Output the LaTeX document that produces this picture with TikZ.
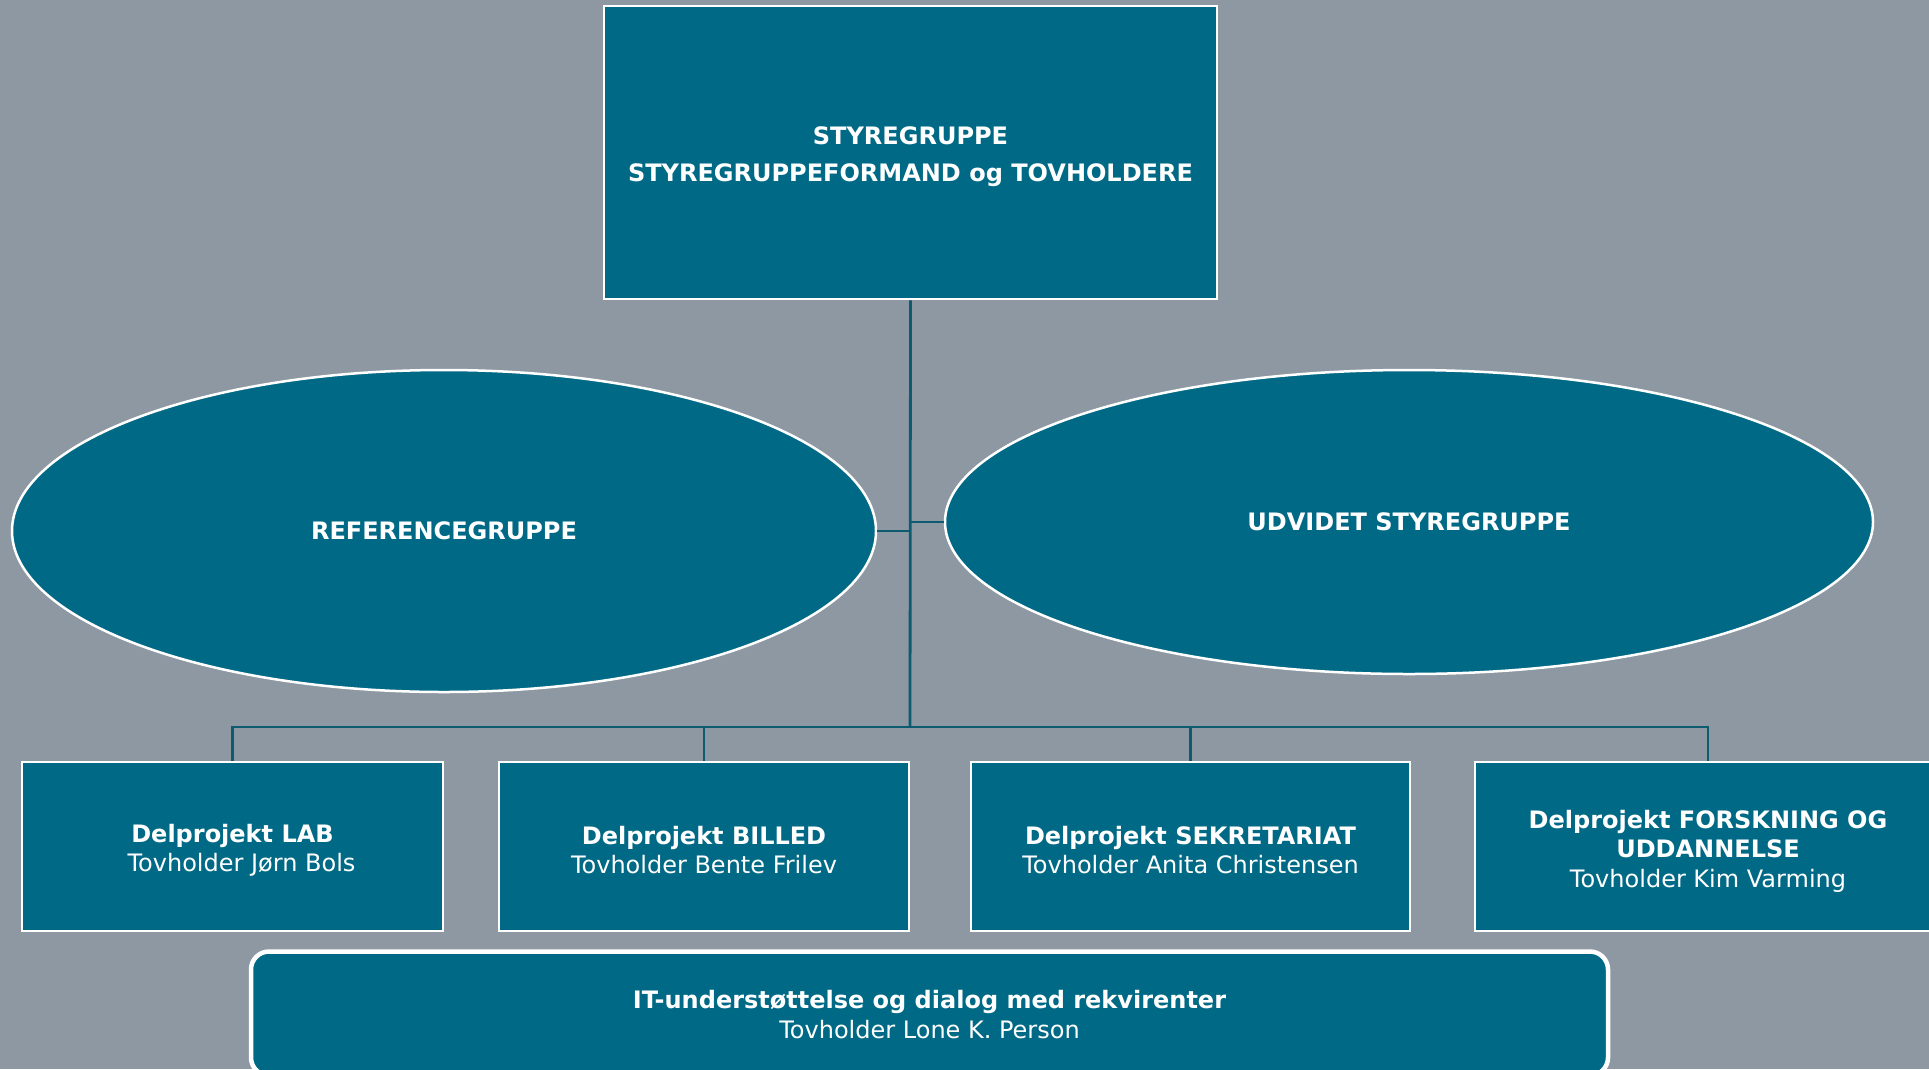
\documentclass[tikz,border=0pt]{standalone}
\usepackage{fontspec}
\setmainfont{DejaVu Sans}
\usetikzlibrary{shapes.geometric}
\definecolor{bgcol}{HTML}{8E98A2}
\definecolor{tealfill}{HTML}{006A86}
\definecolor{conncol}{HTML}{0D5B70}
\tikzset{
  txt/.style={text=white, align=center, inner sep=0pt, font=\fontsize{24}{29.5}\selectfont},
  boxnode/.style={draw=white, line width=2.5pt, fill=tealfill, rectangle, inner sep=0pt},
  ellnode/.style={txt, draw=white, line width=2.5pt, fill=tealfill, ellipse},
  roundbox/.style={draw=white, line width=4.5pt, fill=tealfill, rectangle, rounded corners=18pt, inner sep=0pt},
  conn/.style={draw=conncol, line width=2.8pt}
}
\begin{document}
\begin{tikzpicture}[x=1pt,y=-1pt]
\fill[bgcol] (0,0) rectangle (1929,1069);
\useasboundingbox (0,0) rectangle (1929,1069);
\clip (0,0) rectangle (1929,1069);

\node[boxnode, minimum width=613pt, minimum height=293pt] (top) at (910.5,152.5) {};
\node[txt, yshift=-3.7pt] (topt) at (top.center)
  {\textbf{STYREGRUPPE}\\[7.5pt]\textbf{STYREGRUPPEFORMAND og TOVHOLDERE}};

\node[ellnode, minimum width=864pt, minimum height=322pt] (ref) at (444,531) {\textbf{REFERENCEGRUPPE}};
\node[ellnode, minimum width=928pt, minimum height=304pt] (udv) at (1409,522) {\textbf{UDVIDET STYREGRUPPE}};

\node[boxnode, minimum width=421pt, minimum height=169pt] (lab) at (232.5,846.5) {};
\node[txt, yshift=-3.7pt] (labt) at (lab.center) {\textbf{Delprojekt LAB}\\\hspace*{18pt}Tovholder Jørn Bols};
\node[boxnode, minimum width=410pt, minimum height=169pt] (billed) at (704,846.5) {};
\node[txt, yshift=-3.7pt] (billedt) at (billed.center) {\textbf{Delprojekt BILLED}\\Tovholder Bente Frilev};
\node[boxnode, minimum width=439pt, minimum height=169pt] (sekr) at (1190.5,846.5) {};
\node[txt, yshift=-3.7pt] (sekrt) at (sekr.center) {\textbf{Delprojekt SEKRETARIAT}\\Tovholder Anita Christensen};
\node[boxnode, minimum width=466pt, minimum height=169pt] (forsk) at (1708,846.5) {};
\node[txt, yshift=-4.5pt] (forskt) at (forsk.center)
  {\textbf{Delprojekt FORSKNING OG}\\\textbf{UDDANNELSE}\\Tovholder Kim Varming};

\node[roundbox, minimum width=1357pt, minimum height=124pt] (it) at (929.5,1013.5) {};
\node[txt, yshift=-1pt] (itt) at (it.center)
  {\textbf{IT-understøttelse og dialog med rekvirenter}\\Tovholder Lone K. Person};

\coordinate (bus) at (910,727);
\coordinate (jl) at (910,531);
\coordinate (jr) at (910,522);

\draw[conn] (top.south) -- (bus);
\draw[conn] (ref.east) -- (jl);
\draw[conn] (udv.west) -- (jr);
\draw[conn] (lab.north) -- (lab.north |- bus) -- (forsk.north |- bus) -- (forsk.north);
\draw[conn] (billed.north) -- (billed.north |- bus);
\draw[conn] (sekr.north) -- (sekr.north |- bus);
\end{tikzpicture}
\end{document}
